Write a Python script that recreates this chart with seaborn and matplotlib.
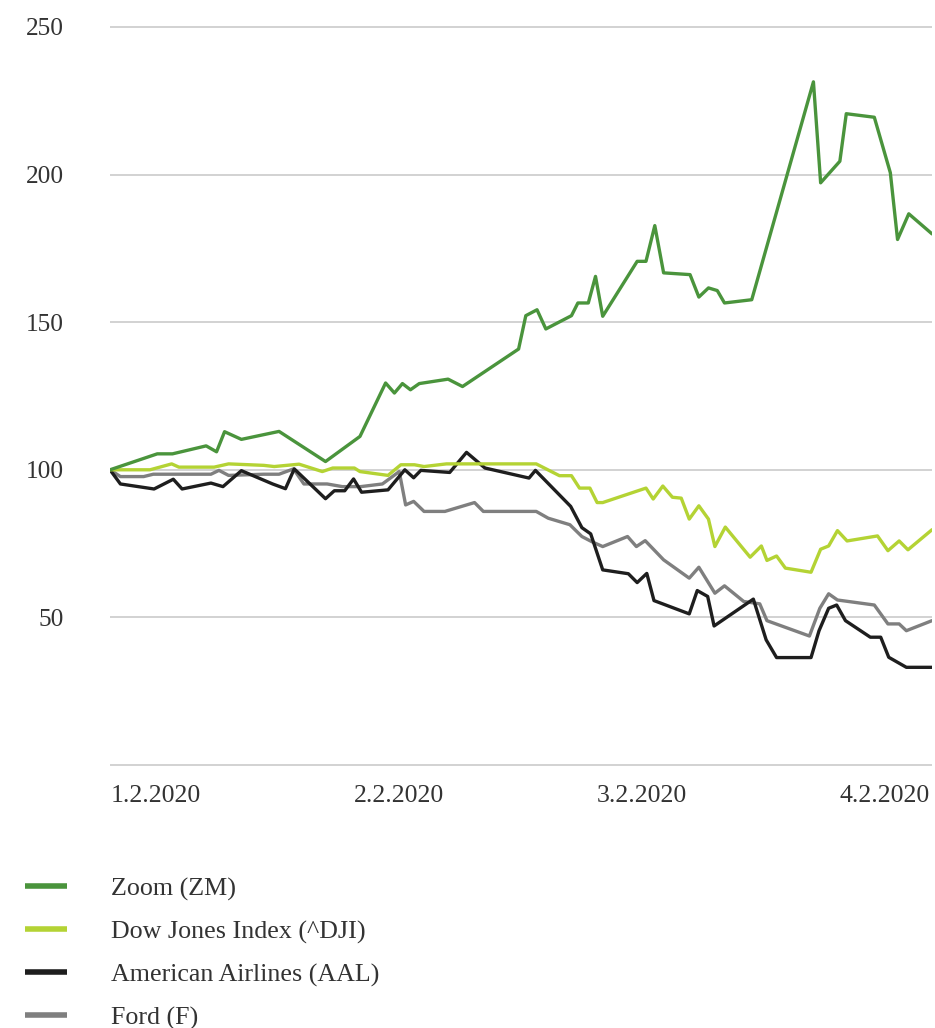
import pandas as pd
import matplotlib.pyplot as plt
import seaborn as sns
from matplotlib.lines import Line2D

# Indexed performance (start = 100), x = approx. days after Jan 2, 2020
zoom_day = [-5.7, 0.2, 2.1, 6.3, 7.6, 8.6, 10.7, 15.4, 21.2, 25.5, 28.7, 29.8, 30.8, 31.8,
            32.9, 36.5, 38.3, 45.3, 46.2, 47.6, 48.7, 51.9, 52.7, 54.0, 54.9, 55.8, 60.1,
            61.2, 62.3, 63.4, 66.7, 67.8, 69.0, 70.1, 71.0, 74.4, 82.1, 83.0, 85.4, 86.2,
            89.7, 91.7, 92.6, 94.0, 96.9]
zoom_val = [100, 105.4, 105.4, 108.1, 106.1, 112.9, 110.3, 113.0, 102.8, 111.3, 129.4, 126.0,
            129.2, 127.1, 129.2, 130.7, 128.2, 140.9, 152.2, 154.2, 147.7, 152.2, 156.5, 156.5,
            165.5, 152.0, 170.6, 170.6, 182.7, 166.7, 166.1, 158.5, 161.6, 160.7, 156.5, 157.6,
            231.4, 197.2, 204.5, 220.6, 219.4, 200.6, 178.0, 186.7, 179.9]

dji_day = [-5.7, -0.7, 2.0, 2.9, 7.3, 9.1, 13.5, 14.8, 17.9, 20.8, 22.1, 24.8, 25.5, 29.0,
           30.6, 32.3, 33.5, 36.3, 47.5, 50.4, 51.9, 52.9, 54.2, 55.1, 55.8, 61.2, 62.1,
           63.3, 64.5, 65.6, 66.6, 67.8, 69.0, 69.8, 71.1, 74.2, 75.6, 76.3, 77.5, 78.6,
           81.8, 83.0, 84.0, 85.1, 86.3, 90.1, 91.4, 92.8, 93.9, 96.9]
dji_val = [100, 100, 102.0, 100.9, 100.9, 102.0, 101.5, 101.1, 101.9, 99.4, 100.6, 100.6, 99.4,
           98.1, 101.7, 101.7, 101.1, 102.0, 102.0, 98.0, 98.0, 93.8, 93.8, 88.9, 88.9, 93.8,
           90.1, 94.5, 90.7, 90.4, 83.3, 87.8, 83.3, 74.0, 80.6, 70.4, 74.2, 69.3, 70.8, 66.7,
           65.3, 73.1, 74.2, 79.4, 75.9, 77.6, 72.6, 75.9, 72.9, 79.7]

aal_day = [-5.7, -4.4, -0.2, 2.2, 3.3, 6.9, 8.4, 10.7, 14.6, 16.2, 17.3, 21.2, 22.3, 23.6,
           24.7, 25.7, 29.0, 31.1, 32.2, 33.1, 36.7, 38.8, 41.1, 46.6, 47.4, 51.8, 53.2,
           54.3, 55.8, 59.0, 60.1, 61.3, 62.2, 66.6, 67.6, 68.9, 69.7, 74.6, 76.2, 77.5,
           81.8, 82.8, 84.0, 85.0, 86.1, 89.2, 90.5, 91.5, 93.7, 96.9]
aal_val = [100, 95.2, 93.5, 96.8, 93.5, 95.5, 94.3, 99.7, 95.2, 93.6, 100.3, 90.2, 92.9, 92.9,
           96.9, 92.4, 93.2, 100, 97.3, 99.8, 99.1, 105.9, 100.6, 97.2, 99.8, 87.6, 80.4, 78.3,
           66.1, 64.8, 61.8, 64.9, 55.7, 51.2, 59.1, 57.1, 47.1, 56.2, 42.4, 36.4, 36.4, 45.5,
           53.1, 54.2, 48.9, 43.3, 43.3, 36.5, 33.1, 33.1]

ford_day = [-5.7, -4.4, -1.5, -0.3, 6.9, 7.9, 9.1, 13.5, 15.4, 17.2, 18.5, 21.4, 23.3, 25.6,
            28.3, 30.4, 31.2, 32.2, 33.5, 36.1, 39.8, 40.9, 47.5, 49.0, 51.7, 53.2, 54.4,
            55.8, 58.9, 60.0, 61.1, 63.4, 66.6, 67.8, 69.8, 71.0, 73.4, 75.4, 76.3, 81.6,
            82.9, 84.0, 85.1, 89.7, 91.4, 92.8, 93.7, 96.9]
ford_val = [100, 97.7, 97.7, 98.5, 98.5, 99.8, 98.1, 98.5, 98.5, 100.3, 95.2, 95.2, 94.3, 94.3,
            95.2, 99.4, 88.1, 89.3, 85.9, 85.9, 88.9, 85.9, 85.9, 83.6, 81.4, 77.4, 75.7, 74.0,
            77.4, 74.0, 76.0, 69.5, 63.3, 67.0, 58.2, 60.7, 55.4, 54.6, 48.9, 43.7, 53.1, 58.0,
            55.9, 54.2, 47.8, 47.8, 45.5, 48.9]

labels = ['Zoom (ZM)', 'Dow Jones Index (^DJI)', 'American Airlines (AAL)', 'Ford (F)']
colors = ['#4a943c', '#b4d334', '#1e1e1e', '#7f7f7f']
tick_days = [0, 30.4, 60.7, 91.0]
tick_labels = ['1.2.2020', '2.2.2020', '3.2.2020', '4.2.2020']

series = {
    'Zoom (ZM)': (zoom_day, zoom_val),
    'Dow Jones Index (^DJI)': (dji_day, dji_val),
    'American Airlines (AAL)': (aal_day, aal_val),
    'Ford (F)': (ford_day, ford_val),
}
df = pd.concat([pd.DataFrame({'day': d, 'value': v, 'stock': k}) for k, (d, v) in series.items()])

sns.set_style('white')
plt.rcParams['font.family'] = ['Liberation Serif', 'DejaVu Serif']
text_color = '#333333'

fig = plt.figure(figsize=(9.35, 10.28), dpi=100)
ax = fig.add_axes([110 / 935, 1 - 768 / 1028, 822 / 935, (768 - 21) / 1028])

palette = dict(zip(labels, colors))
# draw order: grey/black underneath, green on top
for name in ['Ford (F)', 'American Airlines (AAL)', 'Dow Jones Index (^DJI)', 'Zoom (ZM)']:
    sns.lineplot(data=df[df['stock'] == name], x='day', y='value', color=palette[name],
                 linewidth=2.4, estimator=None, sort=False, ax=ax, legend=False)

ax.set_xlim(-5.7, 96.9)
ax.set_ylim(-1, 252)
ax.set_yticks([0, 50, 100, 150, 200, 250])
ax.set_yticklabels(['', '50', '100', '150', '200', '250'])
ax.set_xticks(tick_days)
ax.set_xticklabels(tick_labels)
ax.grid(axis='y', color='#c6c6c6', linewidth=1.1)
ax.grid(axis='x', visible=False)
ax.set_axisbelow(True)
ax.tick_params(axis='y', length=0, pad=33, labelsize=18.3, labelcolor=text_color)
ax.tick_params(axis='x', length=0, pad=12, labelsize=18.5, labelcolor=text_color)
ax.set_xlabel('')
ax.set_ylabel('')
sns.despine(ax=ax, left=True, bottom=True)

handles = [Line2D([0], [0], color=c, linewidth=4, solid_capstyle='butt') for c in colors]
fig.legend(handles, labels, loc='upper left', bbox_to_anchor=(25 / 935, 1 - 877 / 1028),
           frameon=False, fontsize=18.7, labelcolor=text_color, handlelength=1.63,
           handletextpad=1.67, labelspacing=0.75, borderpad=0, borderaxespad=0)

fig.savefig('out.png', dpi=100)
